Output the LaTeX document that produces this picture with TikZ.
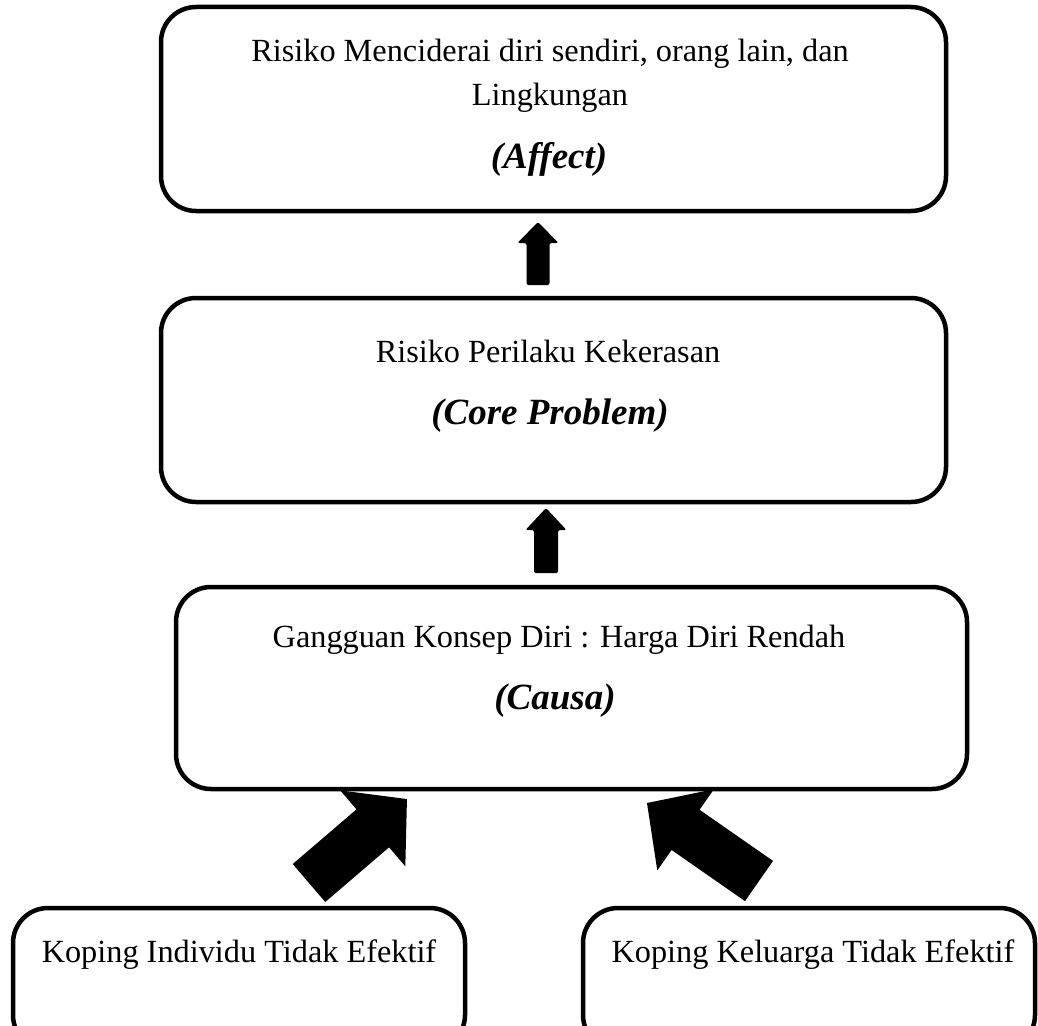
\documentclass[tikz,border=0pt]{standalone}
\usepackage{fontspec}
\setmainfont{Liberation Serif}
\usetikzlibrary{calc,positioning}

% filled block arrow: [options]{tail}{tip}{shaft width}{head width}{head length}
\newcommand{\blockarrow}[6][]{%
  \fill[#1] let \p1=($(#3)-(#2)$), \n1={atan2(\y1,\x1)}, \n2={veclen(\x1,\y1)} in
    [shift={(#2)}, rotate=\n1]
    (0pt,{-#4/2}) -- ({\n2-#6},{-#4/2}) -- ({\n2-#6},{-#5/2}) -- ({\n2},0pt)
    -- ({\n2-#6},{#5/2}) -- ({\n2-#6},{#4/2}) -- (0pt,{#4/2}) -- cycle;}

\begin{document}
\begin{tikzpicture}[x=1pt, y=-1pt,
  box/.style={draw, line width=4.5pt, rounded corners=35pt, inner sep=0pt},
  txt/.style={anchor=base, inner sep=0pt, font=\fontsize{32.3}{38}\selectfont},
  lbl/.style={txt, font=\fontsize{37}{44}\selectfont\bfseries\itshape}
]
\useasboundingbox (0,0) rectangle (1038,1025);
\clip (0,0) rectangle (1038,1025);

% Boxes
\node[box, minimum width=785pt, minimum height=204pt] (affect) at (553.5,109) {};
\node[box, minimum width=785pt, minimum height=204pt] (core)   at (553.5,400) {};
\node[box, minimum width=791pt, minimum height=202pt] (causa)  at (571.5,688) {};
\node[box, minimum width=452pt, minimum height=142pt] (kopind) at (239,979)   {};
\node[box, minimum width=452pt, minimum height=142pt] (kopkel) at (809,979)   {};

% Texts
\node[txt] (affect1) at (550,61)  {Risiko Menciderai diri sendiri, orang lain, dan};
\node[txt] (affect2) at (550,105) {Lingkungan};
\node[lbl] (affect3) at (549,168) {(Affect)};
\node[txt] (core1)   at (548,362) {Risiko Perilaku Kekerasan};
\node[lbl] (core2)   at (550,424) {(Core Problem)};
\node[txt] (causa1)  at (559,647) {Gangguan Konsep Diri : Harga Diri Rendah};
\node[lbl] (causa2)  at (555,709) {(Causa)};
\node[txt] (kopind1) at (239,962) {Koping Individu Tidak Efektif};
\node[txt] (kopkel1) at (813,962) {Koping Keluarga Tidak Efektif};

% Arrow ends
\coordinate (up1s) at (538,285);
\coordinate (up1e) at (538,222);
\coordinate (up2s) at (546,573);
\coordinate (up2e) at (546,508);
\coordinate (indS) at (309,883);
\coordinate (indE) at (407,799);
\coordinate (kelS) at (759,881);
\coordinate (kelE) at (647,803);

% Arrows
\blockarrow[rounded corners=2pt]{up1s}{up1e}{23pt}{41pt}{21pt}
\blockarrow[rounded corners=2pt]{up2s}{up2e}{24pt}{41pt}{22pt}
\blockarrow{indS}{indE}{50pt}{100pt}{45pt}
\blockarrow{kelS}{kelE}{49pt}{99pt}{47pt}

\end{tikzpicture}
\end{document}
